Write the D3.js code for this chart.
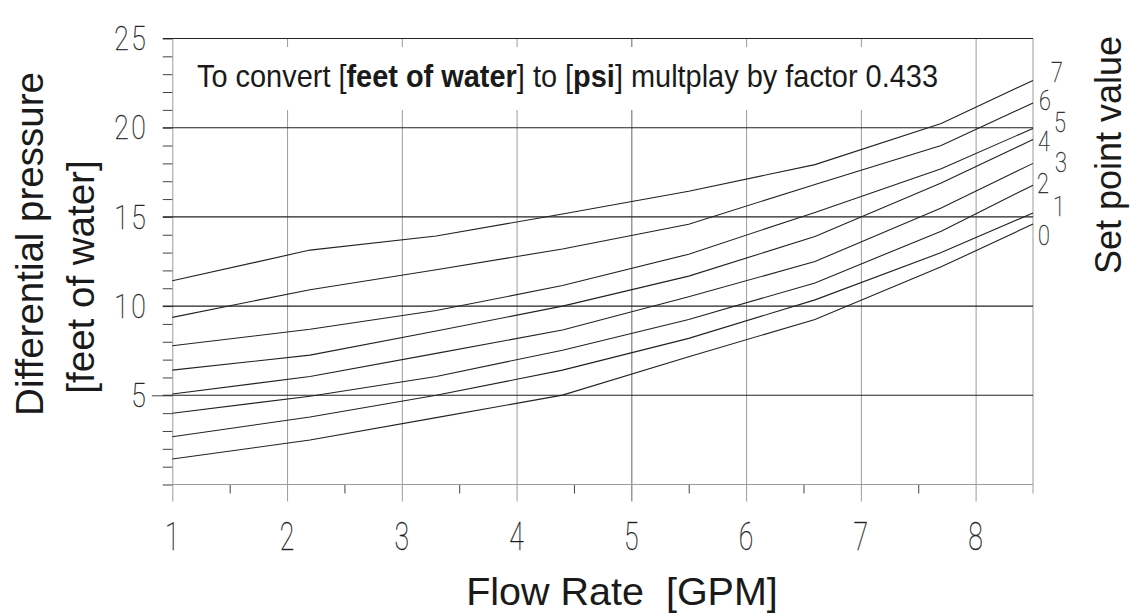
<!DOCTYPE html>
<html><head><meta charset="utf-8">
<script src="https://cdn.jsdelivr.net/npm/d3@7"></script>
<style>
body{margin:0;background:#fff;}
svg{display:block;background:#fff;}
.num{font-family:Roboto,"DejaVu Sans",sans-serif;font-weight:100;fill:#111;stroke:#333;stroke-width:0.35;}
.title{font-family:"Liberation Sans",Arial,sans-serif;fill:#1a1a1a;}
</style></head><body>
<svg id="c" width="1131" height="613"></svg>
<script>
// ---- data ----
const flowRate = [1, 2.2, 3.3, 4.4, 5.5, 6.6, 7.7, 8.5];
const setPoint0 = [1.43, 2.49, 3.75, 5.01, 7.16, 9.25, 12.2, 14.6];
const setPoint1 = [2.68, 3.78, 5.0, 6.41, 8.19, 10.35, 13.0, 15.22];
const setPoint2 = [3.99, 4.95, 6.05, 7.53, 9.25, 11.3, 14.2, 16.78];
const setPoint3 = [5.07, 6.05, 7.35, 8.66, 10.52, 12.5, 15.5, 18.0];
const setPoint4 = [6.41, 7.25, 8.6, 10.0, 11.68, 13.9, 16.9, 19.34];
const setPoint5 = [7.78, 8.7, 9.75, 11.15, 12.91, 15.25, 17.7, 19.96];
const setPoint6 = [9.37, 10.92, 12.04, 13.2, 14.59, 16.82, 19.0, 21.39];
const setPoint7 = [11.42, 13.14, 13.93, 15.16, 16.44, 17.93, 20.24, 22.65];
const seriesValues = [setPoint0, setPoint1, setPoint2, setPoint3, setPoint4, setPoint5, setPoint6, setPoint7];
const setPointLabels = ["0", "1", "2", "3", "4", "5", "6", "7"];
const xTickValues = [1, 2, 3, 4, 5, 6, 7, 8];
const xMinorTicks = [1.5, 2.5, 3.5, 4.5, 5.5, 6.5, 7.5];
const yTickValues = [5, 10, 15, 20, 25];
const yMinorTicks = d3.range(0, 26);
const xTitle = "Flow Rate  [GPM]";
const yTitle1 = "Differential pressure";
const yTitle2 = "[feet of water]";
const rightTitle = "Set point value";

// ---- layout ----
const svg = d3.select("#c");
const x = d3.scaleLinear().domain([1, 8.5]).range([172.3, 1033]);
const y = d3.scaleLinear().domain([0, 25]).range([484.5, 38.5]);
const gridGray = "#9c9c9c", dark = "#222";

// vertical grid lines (x axis)
const gx = svg.append("g").attr("transform", `translate(0,${y(0)})`)
  .call(d3.axisBottom(x).tickValues(xTickValues).tickSize(17).tickFormat(""));
gx.select(".domain").remove();
gx.selectAll(".tick line").attr("y1", y(25) - y(0)).attr("stroke", d => d === 5 ? "#666" : gridGray).attr("stroke-width", 1);
// minor x ticks
const gxm = svg.append("g").attr("transform", `translate(0,${y(0)})`)
  .call(d3.axisBottom(x).tickValues(xMinorTicks).tickSize(9).tickFormat(""));
gxm.select(".domain").remove();
gxm.selectAll(".tick line").attr("stroke", "#444");
// right border
svg.append("line").attr("x1", x(8.5)).attr("x2", x(8.5)).attr("y1", y(25)).attr("y2", y(0) + 9)
  .attr("stroke", gridGray);

// y minor ticks
const gy = svg.append("g").attr("transform", `translate(${x(1)},0)`)
  .call(d3.axisLeft(y).tickValues(yMinorTicks).tickSize(9.5).tickFormat(""));
gy.select(".domain").remove();
gy.selectAll(".tick line").attr("stroke", "#444").attr("x2", d => d === 5 ? -20.5 : -9.5);
// zero line (dotted gray)
svg.append("line").attr("x1", x(1) - 9.5).attr("x2", x(8.5)).attr("y1", y(0)).attr("y2", y(0)).attr("stroke", gridGray);
// horizontal major lines
svg.append("g").selectAll("line").data(yTickValues).join("line")
  .attr("x1", x(1) - 9.5).attr("x2", x(8.5)).attr("y1", d => y(d)).attr("y2", d => y(d))
  .attr("stroke", dark).attr("stroke-width", 1.1);

// curves
const line = d3.line().x((d, i) => x(flowRate[i])).y(d => y(d));
svg.append("g").selectAll("path").data(seriesValues).join("path")
  .attr("d", line).attr("fill", "none").attr("stroke", dark).attr("stroke-width", 1.1);

// annotation box
svg.append("rect").attr("x", 180).attr("y", 47).attr("width", 772).attr("height", 63).attr("fill", "#fff");
const note = svg.append("text").attr("class", "title").attr("x", 197).attr("y", 87).attr("font-size", 30.5)
  .attr("textLength", 741).attr("lengthAdjust", "spacingAndGlyphs").style("white-space", "pre");
note.append("tspan").text("To convert [");
note.append("tspan").attr("font-weight", "bold").text("feet of water");
note.append("tspan").text("] to [");
note.append("tspan").attr("font-weight", "bold").text("psi");
note.append("tspan").text("] multplay by factor 0.433");

// y tick labels
svg.append("g").selectAll("text").data(yTickValues).join("text")
  .attr("class", "num").attr("font-size", 34).attr("text-anchor", "end")
  .attr("dominant-baseline", "central").attr("letter-spacing", 3)
  .attr("transform", d => `translate(148,${y(d)}) scale(0.78,1)`).text(d => d);
// x tick labels
svg.append("g").selectAll("text").data(xTickValues).join("text")
  .attr("class", "num").attr("font-size", 38).attr("text-anchor", "middle")
  .attr("dominant-baseline", "central")
  .attr("transform", d => `translate(${x(d)},537) scale(0.7,1)`).text(d => d);
// set point labels at the right
const labelDx = [1044, 1059, 1043, 1061, 1044, 1060, 1045, 1057];
const labelDy = [12, -6, -2, -1, 2, -6, -2, -8];
svg.append("g").selectAll("text").data(seriesValues).join("text")
  .attr("class", "num").attr("font-size", 27).attr("text-anchor", "middle")
  .attr("dominant-baseline", "central")
  .attr("transform", (d, i) => `translate(${labelDx[i]},${y(d[d.length - 1]) + labelDy[i]}) scale(0.8,1)`)
  .text((d, i) => setPointLabels[i]);

// titles
svg.append("text").attr("class", "title").attr("font-size", 39.5).attr("text-anchor", "middle")
  .style("white-space", "pre").attr("x", 622).attr("y", 605).text(xTitle);
svg.append("text").attr("class", "title").attr("font-size", 38.5).attr("text-anchor", "middle")
  .attr("transform", "translate(43,244) rotate(-90)").text(yTitle1);
svg.append("text").attr("class", "title").attr("font-size", 38.5).attr("text-anchor", "middle")
  .attr("transform", "translate(94,277) rotate(-90)").text(yTitle2);
svg.append("text").attr("class", "title").attr("font-size", 36).attr("text-anchor", "middle")
  .attr("transform", "translate(1121,155) rotate(-90)").text(rightTitle);
</script>
</body></html>
